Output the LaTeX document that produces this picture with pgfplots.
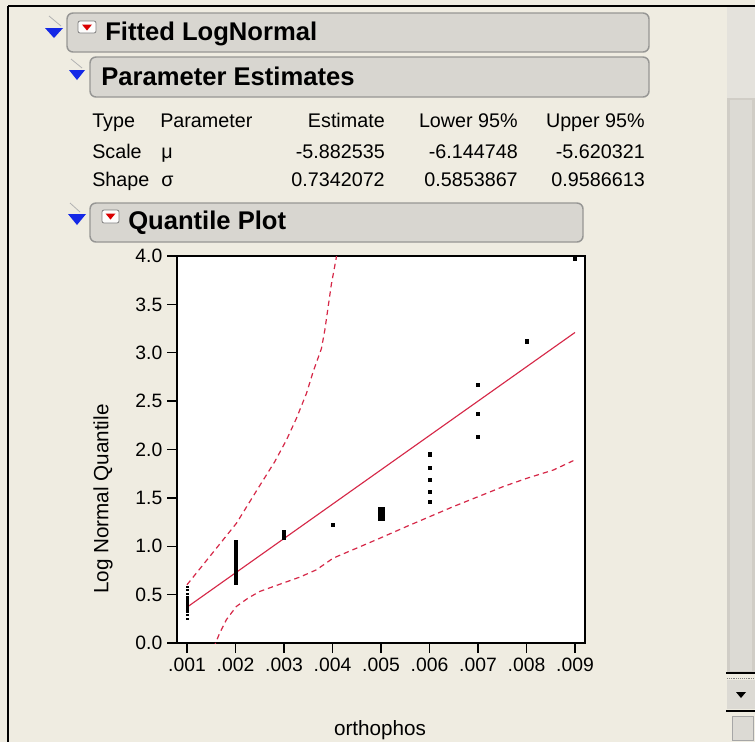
\documentclass[border=0pt]{standalone}
\usepackage{pgfplots}
\pgfplotsset{compat=1.18}
\usepackage{fontspec}
\setmainfont{Liberation Sans}
\definecolor{bg}{RGB}{239,236,225}
\definecolor{boxfill}{RGB}{216,214,208}
\definecolor{boxline}{RGB}{150,150,148}
\definecolor{jmpred}{RGB}{214,40,72}
\definecolor{tri}{RGB}{20,40,230}
\definecolor{sbtrack}{RGB}{208,205,198}
\definecolor{sbinner}{RGB}{220,218,212}
\definecolor{sbdots}{RGB}{228,226,220}
\newcommand{\hdfont}{\bfseries\fontsize{19.2}{21}\selectfont}
\newcommand{\tabfont}{\fontsize{14.8}{16}\selectfont}
\begin{document}
\begin{tikzpicture}
\begin{scope}[x=0.75pt,y=-0.75pt]
\useasboundingbox (0,0) rectangle (755,742);
\fill[bg] (0,0) rectangle (755,742);
% window borders
\draw[black, line width=1.5pt] (8,6) -- (755,6);
\draw[black, line width=1.5pt] (8,6) -- (8,742);
% scrollbar
\fill[sbdots] (727,7) rectangle (755,98);
\fill[sbtrack] (727,98) rectangle (755,673);
\fill[sbinner] (730,100) rectangle (752,671);
\draw[black, line width=1.5pt] (726,673) -- (755,673);
\draw[gray, densely dotted] (727,678) -- (755,678);
\fill[sbinner] (727,680) rectangle (755,709);
\fill[black] (736,692) -- (746,692) -- (741,698) -- cycle;
\draw[black, line width=1.5pt] (726,711) -- (755,711);
\draw[gray!70, fill=sbinner] (732,716) rectangle (753,740);
% header boxes
\draw[boxline, fill=boxfill, rounded corners=4.5pt, line width=1.1pt] (67,13) rectangle (649,52);
\draw[boxline, fill=boxfill, rounded corners=4.5pt, line width=1.1pt] (90,57) rectangle (649,97);
\draw[boxline, fill=boxfill, rounded corners=4.5pt, line width=1.1pt] (90,203) rectangle (583,242);
% disclosure triangles
\draw[gray!60, line width=0.6pt] (49,16) -- (61,26);
\fill[tri] (45,28) -- (63,28) -- (54,38) -- cycle;
\draw[gray!60, line width=0.6pt] (71,59) -- (82,68);
\fill[tri] (69,70) -- (85,70) -- (77,80) -- cycle;
\draw[gray!60, line width=0.6pt] (70,203) -- (80,212);
\fill[tri] (68,214) -- (86,214) -- (77,225) -- cycle;
% red menu icons
\draw[gray, fill=white!90!bg, rounded corners=1.5pt, line width=0.6pt] (78,21) rectangle (96,33);
\fill[red!85!black] (82,24.5) -- (92,24.5) -- (87,30.5) -- cycle;
\draw[gray, fill=white!90!bg, rounded corners=1.5pt, line width=0.6pt] (102,210) rectangle (119,223);
\fill[red!85!black] (105.5,213.5) -- (115.5,213.5) -- (110.5,219.5) -- cycle;
% header texts
\node[anchor=base west, inner sep=0, font=\hdfont] at (105,40) {Fitted LogNormal};
\node[anchor=base west, inner sep=0, font=\hdfont] at (101,85) {Parameter Estimates};
\node[anchor=base west, inner sep=0, font=\hdfont] at (128,229) {Quantile Plot};
% table
\node[anchor=base west, inner sep=0, font=\tabfont] at (92,127) {Type};
\node[anchor=base west, inner sep=0, font=\tabfont] at (160,127) {Parameter};
\node[anchor=base east, inner sep=0, font=\tabfont] at (385,127) {Estimate};
\node[anchor=base east, inner sep=0, font=\tabfont] at (518,127) {Lower 95\%};
\node[anchor=base east, inner sep=0, font=\tabfont] at (645,127) {Upper 95\%};
\node[anchor=base west, inner sep=0, font=\tabfont] at (92,158) {Scale};
\node[anchor=base west, inner sep=0, font=\tabfont] at (161,158) {μ};
\node[anchor=base east, inner sep=0, font=\tabfont] at (385,158) {-5.882535};
\node[anchor=base east, inner sep=0, font=\tabfont] at (518,158) {-6.144748};
\node[anchor=base east, inner sep=0, font=\tabfont] at (645,158) {-5.620321};
\node[anchor=base west, inner sep=0, font=\tabfont] at (92,186) {Shape};
\node[anchor=base west, inner sep=0, font=\tabfont] at (161,186) {σ};
\node[anchor=base east, inner sep=0, font=\tabfont] at (385,186) {0.7342072};
\node[anchor=base east, inner sep=0, font=\tabfont] at (518,186) {0.5853867};
\node[anchor=base east, inner sep=0, font=\tabfont] at (645,186) {0.9586613};
\end{scope}
\begin{axis}[
  at={(132.75pt,-482.25pt)}, anchor=south west,
  width=306pt, height=290.25pt, scale only axis,
  xmin=0.000794, xmax=0.009206, ymin=0, ymax=4,
  axis background/.style={fill=white},
  axis line style={line width=1.3pt, black},
  xtick={0.001,0.002,0.003,0.004,0.005,0.006,0.007,0.008,0.009},
  ytick={0,0.5,1,1.5,2,2.5,3,3.5,4},
  scaled x ticks=false,
  tick align=outside, tick pos=left, major tick length=7.5pt,
  tick style={black, line width=1pt},
  /pgf/number format/assume math mode=true,
  ticklabel style={font=\fontsize{14.5}{16}\selectfont},
  xticklabel style={/pgf/number format/.cd, fixed, precision=3, skip 0.},
  yticklabel style={/pgf/number format/.cd, fixed, fixed zerofill, precision=1},
  xlabel={orthophos}, ylabel={Log Normal Quantile},
  label style={font=\fontsize{15.5}{17}\selectfont},
  xlabel style={at={(axis description cs:0.4975,-0.2248)}, anchor=center},
  ylabel style={at={(axis description cs:-0.181,0.372)}, anchor=center},
]
% fitted line
\addplot[jmpred, line width=0.85pt] coordinates {(0.001,0.37) (0.009,3.21)};
% upper confidence band
\addplot[jmpred, line width=0.9pt, dash pattern=on 4pt off 3pt] coordinates {
(0.00100,0.602) (0.00202,1.238) (0.002465,1.599) (0.002809,1.874) (0.00305,2.098)
(0.003256,2.322) (0.003463,2.580) (0.00360,2.803) (0.003772,3.044) (0.003841,3.233)
(0.003910,3.474) (0.003979,3.715) (0.004068,3.955) (0.00410,4.05)};
% lower confidence band
\addplot[jmpred, line width=0.9pt, dash pattern=on 4pt off 3pt] coordinates {
(0.00155,-0.05) (0.001674,0.103) (0.001812,0.241) (0.002018,0.378) (0.002259,0.464)
(0.0025,0.533) (0.003016,0.626) (0.003325,0.681) (0.003669,0.757) (0.004013,0.877)
(0.004495,0.980) (0.004976,1.083) (0.005526,1.204) (0.006008,1.307) (0.00649,1.410)
(0.007005,1.513) (0.007521,1.617) (0.008003,1.702) (0.008553,1.788) (0.008966,1.885)};
% data points at .001 (small)
\addplot[only marks, mark=square*, mark size=0.6pt, black] coordinates {
(0.001,0.25) (0.001,0.29) (0.001,0.33) (0.001,0.36) (0.001,0.38) (0.001,0.40)
(0.001,0.42) (0.001,0.45) (0.001,0.48) (0.001,0.51) (0.001,0.55) (0.001,0.58)};
% data points
\addplot[only marks, mark=square*, mark size=1.25pt, black] coordinates {
(0.002,0.62) (0.002,0.65) (0.002,0.68) (0.002,0.71) (0.002,0.74) (0.002,0.77)
(0.002,0.80) (0.002,0.83) (0.002,0.86) (0.002,0.89) (0.002,0.92) (0.002,0.95)
(0.002,0.98) (0.002,1.01) (0.002,1.04)
(0.003,1.09) (0.003,1.12) (0.003,1.15)
(0.004,1.22)
(0.006,1.46) (0.006,1.56) (0.006,1.69) (0.006,1.81) (0.006,1.95)
(0.007,2.13) (0.007,2.37) (0.007,2.67)
(0.008,3.12)
(0.009,3.97)};
% dense block at .005
\addplot[only marks, mark=square*, mark size=2.4pt, black] coordinates {
(0.005,1.30) (0.005,1.335) (0.005,1.37)};
\end{axis}
\end{tikzpicture}
\end{document}
